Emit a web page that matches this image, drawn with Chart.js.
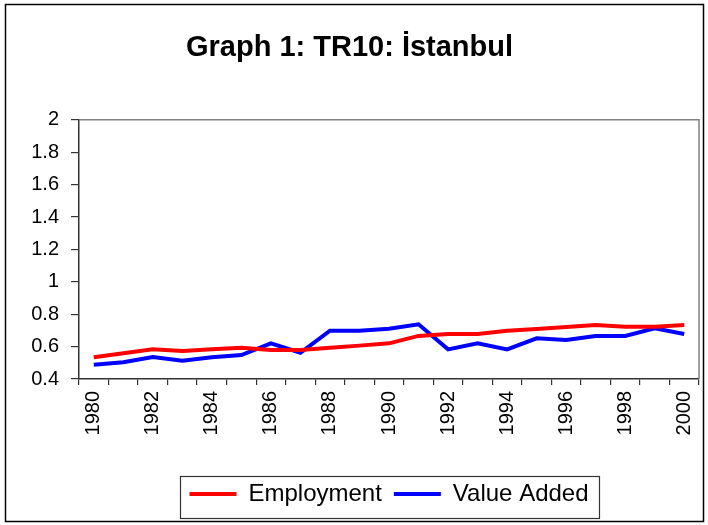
<!DOCTYPE html>
<html>
<head>
<meta charset="utf-8">
<script src="https://cdn.jsdelivr.net/npm/chart.js@4"></script>
<style>
  html, body { margin: 0; padding: 0; background: #fff; }
  #wrap { position: relative; width: 708px; height: 525px; }
</style>
</head>
<body>
<div id="wrap"><canvas id="c" width="708" height="525"></canvas></div>
<script>
const years = ['1980','1981','1982','1983','1984','1985','1986','1987','1988','1989','1990',
               '1991','1992','1993','1994','1995','1996','1997','1998','1999','2000'];
const employment = [0.534,0.559,0.583,0.573,0.583,0.593,0.579,0.579,0.593,0.606,0.620,
                    0.666,0.678,0.678,0.698,0.709,0.721,0.733,0.723,0.723,0.733];
const valueAdded = [0.488,0.503,0.536,0.513,0.534,0.548,0.620,0.562,0.698,0.698,0.710,
                    0.738,0.583,0.620,0.583,0.651,0.641,0.666,0.666,0.713,0.678];
const titleText = 'Graph 1: TR10: İstanbul';
const FONT = "'Liberation Sans', Arial, sans-serif";

const framePlugin = {
  id: 'framePlugin',
  beforeDraw(chart) {
    const ctx = chart.ctx;
    ctx.save();
    ctx.fillStyle = '#fff';
    ctx.fillRect(0, 0, chart.width, chart.height);
    ctx.restore();
  },
  afterLayout(chart) {
    const lg = chart.legend;
    const a = chart.chartArea;
    if (lg) {
      const shift = (a.left + a.right) / 2 - (lg.left + lg.right) / 2;
      lg.left += shift;
      lg.right += shift;
    }
  },
  afterDraw(chart) {
    const ctx = chart.ctx;
    const a = chart.chartArea;
    ctx.save();
    ctx.strokeStyle = '#808080';
    ctx.lineWidth = 1.5;
    ctx.beginPath();
    ctx.moveTo(a.left, a.top);
    ctx.lineTo(a.right, a.top);
    ctx.lineTo(a.right, a.bottom);
    ctx.stroke();
    ctx.strokeStyle = '#000';
    ctx.lineWidth = 1.5;
    ctx.strokeRect(5.5, 4.5, 698, 517);
    const hb = chart.legend && chart.legend.legendHitBoxes;
    if (hb && hb.length) {
      const first = hb[0], last = hb[hb.length - 1];
      const l = first.left - 9;
      const r = last.left + last.width + 11;
      const t = first.top - 6;
      const b = first.top + first.height + 12;
      ctx.strokeStyle = '#333';
      ctx.lineWidth = 1.2;
      ctx.strokeRect(Math.round(l) + 0.5, Math.round(t) + 0.5, Math.round(r - l), Math.round(b - t));
    }
    ctx.restore();
  }
};

new Chart(document.getElementById('c'), {
  type: 'line',
  data: {
    labels: years,
    datasets: [
      { label: 'Employment', data: employment, borderColor: '#ff0000', backgroundColor: '#ff0000',
        borderWidth: 4, pointRadius: 0, tension: 0 },
      { label: 'Value Added', data: valueAdded, borderColor: '#0000ff', backgroundColor: '#0000ff',
        borderWidth: 4, pointRadius: 0, tension: 0 }
    ]
  },
  options: {
    responsive: false,
    animation: false,
    devicePixelRatio: 1,
    layout: { padding: { left: 0, right: 9, top: 0, bottom: 9 } },
    plugins: {
      title: {
        display: true, text: titleText, color: '#000',
        font: { family: FONT, size: 29, weight: 'bold' },
        padding: { top: 31, bottom: 54 }
      },
      legend: {
        position: 'bottom',
        labels: {
          usePointStyle: true, pointStyle: 'line', pointStyleWidth: 47,
          color: '#000', font: { family: FONT, size: 24 }, padding: 12
        }
      },
      tooltip: { enabled: false }
    },
    scales: {
      x: {
        type: 'category',
        offset: true,
        grid: { offset: true, drawOnChartArea: false, drawTicks: true, tickLength: 6, color: '#333', lineWidth: 1.2 },
        border: { color: '#333', width: 1.5 },
        ticks: {
          autoSkip: false, minRotation: 90, maxRotation: 90, padding: 6,
          color: '#000', font: { family: FONT, size: 20 },
          callback: (v, i) => (i % 2 === 0 ? years[i] : '')
        },
        afterFit: s => { s.height = 91; s.paddingLeft = 0; s.paddingRight = 0; }
      },
      y: {
        min: 0.4, max: 2,
        grid: { drawOnChartArea: false, drawTicks: true, tickLength: 8, color: '#333', lineWidth: 1.2 },
        border: { color: '#333', width: 1.5 },
        ticks: {
          stepSize: 0.2, padding: 12, color: '#000', font: { family: FONT, size: 20 },
          callback: v => String(Number(v.toFixed(1)))
        },
        afterFit: s => { s.width = 79; }
      }
    }
  },
  plugins: [framePlugin]
});
</script>
</body>
</html>
